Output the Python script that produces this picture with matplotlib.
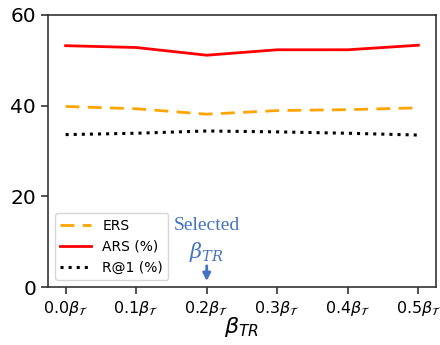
import numpy as np
import matplotlib.pyplot as plt

plt.rcParams['font.family'] = 'DejaVu Sans'

x_labels = [r'$0.0\beta_\mathcal{T}$', r'$0.1\beta_\mathcal{T}$', r'$0.2\beta_\mathcal{T}$',
            r'$0.3\beta_\mathcal{T}$', r'$0.4\beta_\mathcal{T}$', r'$0.5\beta_\mathcal{T}$']
ers = [39.8, 39.3, 38.1, 38.9, 39.1, 39.5]
ars = [53.2, 52.8, 51.1, 52.3, 52.3, 53.3]
r_at_1 = [33.6, 33.9, 34.4, 34.2, 33.9, 33.5]

x = np.arange(len(x_labels))

fig = plt.figure(figsize=(4.4, 3.45), dpi=100)
ax = fig.add_axes([0.109, 0.168, 0.882, 0.789])

ax.plot(x, ers, linestyle=(0, (5, 3)), color='orange', linewidth=2, label='ERS')
ax.plot(x, ars, linestyle='-', color='red', linewidth=2, label='ARS (%)')
ax.plot(x, r_at_1, linestyle=':', color='black', linewidth=2.2, label='R@1 (%)')

ax.set_xlim(-0.25, 5.25)
ax.set_ylim(0, 60)
ax.set_yticks([0, 20, 40, 60])
ax.set_xticks(x)
ax.set_xticklabels(x_labels, fontsize=11.5)
ax.tick_params(axis='y', labelsize=14.5)
ax.tick_params(length=5, width=1.2, color='#333333')
for s in ax.spines.values():
    s.set_linewidth(1.2)
    s.set_color('#333333')
ax.set_xlabel(r'$\beta_{TR}$', fontsize=16, labelpad=-2)

ax.legend(loc='lower left', fontsize=10, handlelength=2.2, bbox_to_anchor=(0.0, 0.0))

ax.text(2, 13.6, 'Selected', ha='center', va='center', color='#4472C4',
        family='Liberation Serif', fontsize=14)
ax.text(2, 7.8, r'$\beta_{TR}$', ha='center', va='center', color='#4472C4',
        fontsize=15, math_fontfamily='dejavuserif')
ax.annotate('', xy=(2, 0.7), xytext=(2, 5.3),
            arrowprops=dict(arrowstyle='-|>', color='#4472C4', lw=2, mutation_scale=11))

plt.savefig('out.png', dpi=100)
